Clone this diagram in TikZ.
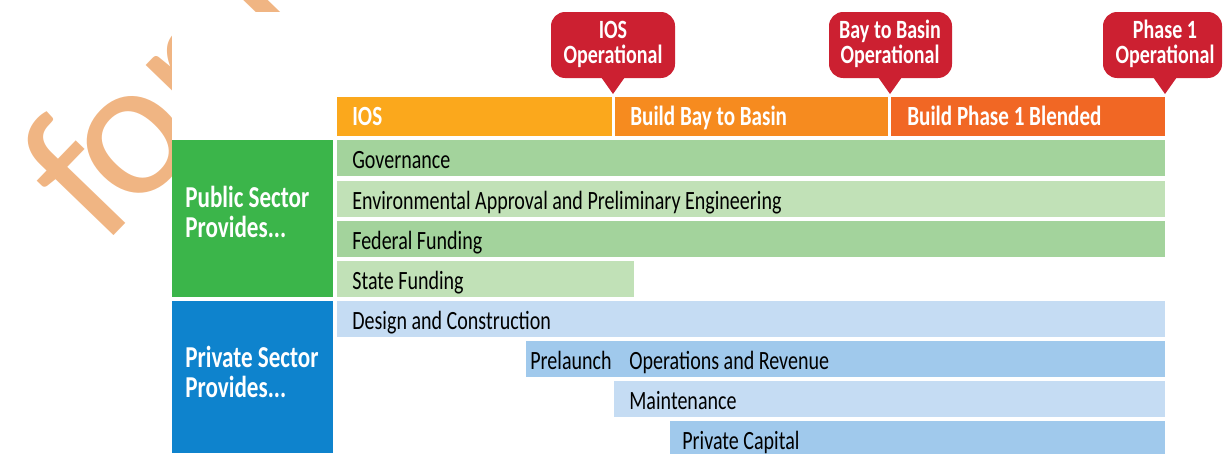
\documentclass[tikz,border=0pt]{standalone}
\usepackage{fontspec}
\setmainfont{Carlito}[FakeStretch=0.76]
\newfontfamily\wmfont{Carlito}

\definecolor{callred}{RGB}{204,32,49}
\definecolor{iosC}{RGB}{251,168,28}
\definecolor{bayC}{RGB}{246,139,31}
\definecolor{phaseC}{RGB}{241,103,36}
\definecolor{pubC}{RGB}{59,181,74}
\definecolor{gDark}{RGB}{163,211,156}
\definecolor{gLight}{RGB}{193,225,183}
\definecolor{privC}{RGB}{14,131,205}
\definecolor{bLight}{RGB}{197,220,243}
\definecolor{bDark}{RGB}{160,201,236}
\definecolor{wmC}{RGB}{240,181,131}

\begin{document}
\begin{tikzpicture}[x=0.02cm,y=-0.02cm,
    txt/.style={anchor=base west,inner sep=0pt,font=\fontsize{15}{17}\selectfont},
    head/.style={anchor=base west,inner sep=0pt,text=white,font=\fontsize{15.8}{17}\selectfont\bfseries},
    side/.style={anchor=base west,inner sep=0pt,text=white,font=\fontsize{17.3}{19}\selectfont\bfseries},
    call/.style={anchor=base,inner sep=0pt,text=white,font=\fontsize{15}{17}\selectfont\bfseries},
    wm/.style={anchor=base west,inner sep=0pt,rotate=46,text=wmC,font=\wmfont\fontsize{113}{113}\selectfont}]

    \useasboundingbox (0,0) rectangle (1223,453);
    \clip (0,0) rectangle (1223,453);

    % watermark, mostly hidden behind the chart area
    \node[wm] (wmark) at (102,248) {f\kern-0.08em or review};
    \fill[white] (172,12) rectangle (1223,453);

    % milestone callouts
    \fill[callred,rounded corners=8] (551,12) rectangle (675,78);
    \fill[callred] (601,77) -- (625,77) -- (613,94) -- cycle;
    \node[call] (iosA) at (613,38) {IOS};
    \node[call] (iosB) at (613,63) {Operational};

    \fill[callred,rounded corners=8] (829,12) rectangle (952,78);
    \fill[callred] (878,77) -- (902,77) -- (890,94) -- cycle;
    \node[call] (bayA) at (890,38) {Bay to Basin};
    \node[call] (bayB) at (890,63) {Operational};

    \fill[callred,rounded corners=8] (1103,12) rectangle (1222,78);
    \fill[callred] (1153,77) -- (1177,77) -- (1165,94) -- cycle;
    \node[call] (phA) at (1165,38) {Phase 1};
    \node[call] (phB) at (1165,63) {Operational};

    % phase bars
    \fill[iosC] (337,97) rectangle (612,136);
    \node[head] (ios) at (352,125) {IOS};
    \fill[bayC] (615,97) rectangle (888,136);
    \node[head] (bay) at (630,125) {Build Bay to Basin};
    \fill[phaseC] (891,97) rectangle (1165,136);
    \node[head] (phase) at (907,125) {Build Phase 1 Blended};

    % public sector
    \fill[pubC] (172,140) rectangle (333,297);
    \node[side] (pubA) at (185,207) {Public Sector};
    \node[side] (pubB) at (185,237) {Provides...};

    \fill[gDark] (337,140) rectangle (1165,176);
    \node[txt] (gov) at (352,168) {Governance};
    \fill[gLight] (337,181) rectangle (1165,217);
    \node[txt] (env) at (352,209) {Environmental Approval and Preliminary Engineering};
    \fill[gDark] (337,221) rectangle (1165,257);
    \node[txt] (fed) at (352,249) {Federal Funding};
    \fill[gLight] (337,261) rectangle (634,297);
    \node[txt] (state) at (352,289) {State Funding};

    % private sector
    \fill[privC] (172,301) rectangle (333,453);
    \node[side] (privA) at (185,367) {Private Sector};
    \node[side] (privB) at (185,397) {Provides...};

    \fill[bLight] (337,301) rectangle (1165,337);
    \node[txt] (design) at (352,329) {Design and Construction};
    \fill[bDark] (526,341) rectangle (1165,377);
    \node[txt] (prelaunch) at (530,369) {Prelaunch};
    \node[txt] (ops) at (629,369) {Operations and Revenue};
    \fill[bLight] (614,381) rectangle (1165,417);
    \node[txt] (maint) at (629,409) {Maintenance};
    \fill[bDark] (670,421) rectangle (1165,457);
    \node[txt] (capital) at (682,449) {Private Capital};
\end{tikzpicture}
\end{document}
